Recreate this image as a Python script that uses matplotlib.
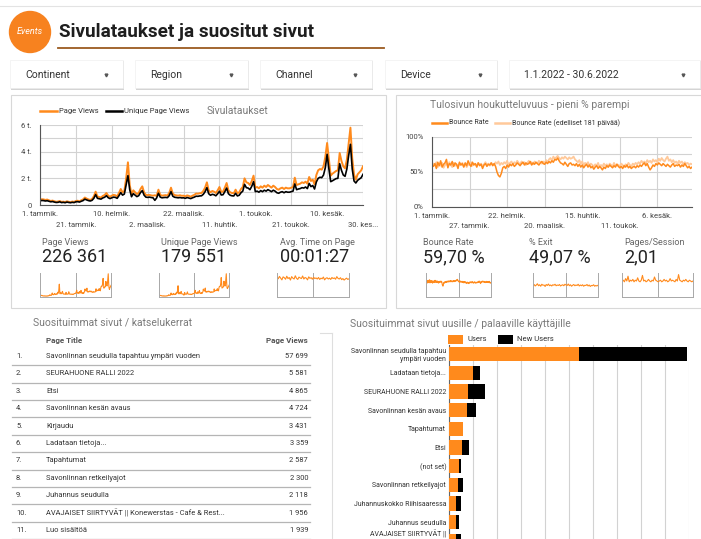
import numpy as np
import matplotlib.pyplot as plt
from matplotlib.patches import Rectangle, Circle

plt.rcParams['font.family'] = ['Roboto', 'DejaVu Sans']

W, H = 701, 539

# ---- data (1.1.2022 - 30.6.2022, daily) ----
page_views = [
    400, 430, 420, 380, 410, 350, 300, 330, 280, 240,
    260, 300, 230, 250, 220, 280, 240, 210, 260, 230,
    300, 320, 280, 350, 420, 560, 480, 420, 380, 450,
    650, 1000, 640, 600, 560, 680, 750, 900, 700, 620,
    700, 760, 730, 650, 900, 1200, 950, 1050, 2000, 3200,
    1500, 800, 1100, 950, 820, 900, 1200, 1400, 950, 760,
    740, 760, 720, 700, 730, 680, 1150, 760, 700, 720,
    740, 710, 900, 1300, 850, 750, 720, 700, 730, 690,
    700, 650, 720, 680, 620, 700, 760, 860, 850, 880,
    900, 1050, 1300, 1700, 1100, 950, 1050, 1000, 900, 1100,
    1350, 980, 1000, 1300, 1650, 1100, 950, 900, 880, 1150,
    880, 950, 1200, 1350, 2000, 1700, 1650, 1500, 1800, 2200,
    1300, 1350, 1250, 1400, 1300, 1450, 1350, 1500, 1400, 1300,
    1450, 1350, 1200, 1150, 1250, 1300, 1200, 1300, 1250, 1250,
    1300, 1350, 2050, 1500, 1550, 1600, 1700, 1650, 1750, 1600,
    2100, 1800, 1900, 1550, 2250, 2600, 2700, 2650, 2900, 3600,
    4650, 3400, 2200, 2350, 2450, 2550, 2600, 3900, 3300, 2900,
    2750, 3400, 4600, 5800, 3500, 2300, 1900, 2300, 2450, 2600,
    2900]
unique_views = [
    310, 340, 330, 300, 320, 280, 240, 260, 220, 190,
    200, 240, 180, 200, 170, 220, 190, 170, 200, 180,
    240, 250, 220, 280, 330, 440, 380, 330, 300, 350,
    500, 780, 500, 470, 440, 530, 580, 700, 550, 480,
    540, 590, 570, 500, 700, 930, 740, 820, 1500, 2200,
    1150, 620, 850, 740, 630, 700, 930, 1080, 740, 590,
    570, 590, 560, 540, 350, 530, 880, 590, 540, 560,
    570, 550, 700, 1000, 660, 580, 560, 540, 560, 530,
    540, 500, 560, 520, 480, 540, 590, 660, 650, 680,
    690, 800, 1000, 1300, 850, 730, 800, 770, 690, 840,
    1030, 750, 770, 1000, 1270, 850, 730, 690, 680, 880,
    680, 730, 920, 1040, 1550, 1300, 1270, 1150, 1400, 1750,
    1000, 1040, 960, 1080, 1000, 1110, 1040, 1150, 1080, 1000,
    1110, 1040, 920, 880, 960, 1000, 920, 1000, 960, 960,
    1000, 1040, 1580, 1150, 1200, 1230, 1300, 1270, 1350, 1230,
    1620, 1380, 1460, 1200, 1730, 2000, 2080, 2050, 2250, 2800,
    3800, 2700, 1750, 1820, 1900, 1980, 2000, 3100, 2600, 2250,
    2150, 2700, 3700, 4550, 2700, 1800, 1650, 1850, 1950, 2050,
    2300]
bounce_rate = [
    60, 58, 62, 55, 64, 59, 66, 57, 61, 63,
    68, 56, 62, 60, 65, 58, 63, 61, 55, 64,
    60, 62, 57, 63, 59, 66, 61, 58, 64, 60,
    62, 57, 63, 59, 61, 55, 60, 62, 58, 61,
    60, 63, 59, 62, 58, 50, 45, 43, 48, 56,
    58, 55, 60, 57, 61, 59, 62, 58, 60, 63,
    61, 59, 62, 64, 60, 63, 61, 62, 65, 60,
    63, 61, 64, 62, 60, 63, 65, 62, 61, 64,
    62, 65, 63, 66, 64, 68, 67, 70, 66, 63,
    62, 60, 64, 61, 58, 62, 63, 60, 61, 59,
    62, 58, 61, 57, 60, 56, 59, 61, 57, 60,
    56, 58, 54, 57, 59, 55, 58, 56, 53, 57,
    55, 59, 57, 60, 58, 56, 59, 57, 61, 58,
    56, 58, 55, 59, 57, 60, 56, 58, 55, 57,
    58, 56, 59, 57, 60, 58, 61, 63, 59, 62,
    57, 53, 56, 60, 58, 62, 60, 63, 61, 59,
    62, 60, 58, 61, 59, 57, 60, 62, 58, 60,
    59, 61, 57, 60, 58, 62, 59, 56, 58, 55,
    57]
bounce_prev = [
    58, 62, 60, 64, 57, 61, 59, 63, 56, 60,
    62, 58, 64, 60, 57, 63, 59, 61, 58, 62,
    60, 63, 58, 62, 57, 61, 60, 64, 59, 62,
    61, 59, 63, 60, 62, 58, 61, 64, 60, 62,
    59, 63, 61, 60, 64, 62, 65, 60, 63, 61,
    64, 62, 66, 60, 63, 65, 61, 64, 62, 66,
    63, 61, 65, 62, 64, 60, 63, 66, 62, 64,
    61, 65, 63, 62, 66, 64, 62, 65, 63, 67,
    64, 68, 70, 66, 72, 69, 71, 73, 70, 68,
    71, 69, 72, 70, 68, 71, 69, 70, 72, 68,
    66, 64, 67, 62, 65, 60, 63, 61, 64, 59,
    62, 60, 58, 61, 59, 63, 57, 60, 58, 62,
    59, 61, 57, 62, 60, 58, 63, 59, 61, 60,
    58, 62, 60, 57, 61, 59, 63, 60, 58, 62,
    60, 63, 61, 64, 62, 66, 63, 65, 62, 67,
    64, 66, 63, 68, 65, 67, 64, 69, 66, 70,
    67, 65, 69, 72, 66, 68, 64, 67, 63, 65,
    62, 66, 63, 65, 61, 64, 62, 63, 60, 62,
    61]
# sparkline series (every 3rd day)
avg_time = [92, 85, 96, 88, 80, 94, 90, 83, 97, 86, 91, 79, 95, 88, 84, 99, 87, 82, 93, 89,
            86, 98, 84, 91, 88, 80, 94, 87, 90, 83, 92, 86, 89, 84, 91, 82, 88, 85, 93, 80,
            87, 90, 84, 88, 82, 91, 86, 89, 83, 95, 87, 84, 90, 81, 86, 79, 84, 88, 82, 85]
exit_rate = [48, 52, 46, 50, 55, 47, 51, 45, 53, 49, 50, 44, 52, 48, 54, 47, 50, 46, 51, 49,
             53, 47, 50, 48, 52, 46, 49, 51, 47, 53, 50, 48, 54, 47, 51, 45, 49, 52, 47, 50,
             48, 53, 46, 50, 47, 51, 45, 49, 48, 52, 46, 50, 44, 48, 47, 51, 45, 48, 46, 49]
pages_session = [2.0, 2.1, 1.9, 2.3, 2.0, 2.6, 1.9, 2.1, 2.0, 2.2, 1.9, 2.1, 2.0, 2.4, 2.0,
                 1.9, 2.1, 2.7, 2.0, 2.1, 1.9, 2.0, 2.2, 2.0, 1.9, 2.1, 2.0, 2.5, 2.1, 2.0,
                 1.9, 2.0, 2.1, 1.9, 2.0, 2.2, 2.0, 2.1, 1.9, 2.0, 2.3, 2.0, 2.1, 2.0, 1.9,
                 2.2, 2.0, 2.8, 2.1, 2.0, 1.9, 2.1, 2.0, 2.2, 2.0, 1.9, 2.1, 2.0, 1.9, 2.0]

main_tick_days = [0, 20, 40, 60, 80, 100, 120, 140, 160, 180]
main_tick_labels = ['1. tammik.', '21. tammik.', '10. helmik.', '2. maalisk.', '22. maalisk.',
                    '11. huhtik.', '1. toukok.', '21. toukok.', '10. kesäk.', '30. kes...']
bounce_tick_days = [0, 26, 52, 78, 104, 130, 156]
bounce_tick_labels = ['1. tammik.', '27. tammik.', '22. helmik.', '20. maalisk.',
                      '15. huhtik.', '11. toukok.', '6. kesäk.']

filters = ['Continent', 'Region', 'Channel', 'Device', '1.1.2022 - 30.6.2022']

score_left = [('Page Views', '226 361'), ('Unique Page Views', '179 551'),
              ('Avg. Time on Page', '00:01:27')]
score_right = [('Bounce Rate', '59,70 %'), ('% Exit', '49,07 %'), ('Pages/Session', '2,01')]

table_titles = ['Savonlinnan seudulla tapahtuu ympäri vuoden', 'SEURAHUONE RALLI 2022', 'Etsi',
                'Savonlinnan kesän avaus', 'Kirjaudu', 'Ladataan tietoja...', 'Tapahtumat',
                'Savonlinnan retkeilyajot', 'Juhannus seudulla',
                'AVAJAISET SIIRTYVÄT || Konewerstas - Cafe & Rest...', 'Luo sisältöä']
table_views = [57699, 5581, 4865, 4724, 3431, 3359, 2587, 2300, 2118, 1956, 1939]

bar_labels = ['Savonlinnan seudulla tapahtuu\nympäri vuoden', 'Ladataan tietoja...',
              'SEURAHUONE RALLI 2022', 'Savonlinnan kesän avaus', 'Tapahtumat', 'Etsi',
              '(not set)', 'Savonlinnan retkeilyajot', 'Juhannuskokko Riihisaaressa',
              'Juhannus seudulla', 'AVAJAISET SIIRTYVÄT ||\nKonewerstas - Cafe &\nRestaurant']
bar_users = [27150, 5100, 4050, 3700, 3000, 2800, 2100, 1950, 1450, 1400, 1450]
bar_new_users = [22350, 1400, 3350, 1950, 0, 1450, 500, 1050, 1000, 750, 1000]

ORANGE = '#ff8a1c'
LIGHT = '#ffc99a'
GRID = '#d2d2d2'
GRAY_TITLE = '#7a7a7a'

fig = plt.figure(figsize=(W / 100, H / 100), dpi=100)
bg = fig.add_axes([0, 0, 1, 1])
bg.set_xlim(0, W)
bg.set_ylim(H, 0)
bg.axis('off')


def rect(x0, y0, x1, y1):
    return [x0 / W, 1 - y1 / H, (x1 - x0) / W, (y1 - y0) / H]


# header
bg.plot([0, W], [6, 6], color='#e3e3e3', lw=0.8)
bg.add_patch(Circle((30, 32), 20.5, color='#f7821f'))
bg.text(30, 31, 'Events', color='white', fontsize=6.5, style='italic', ha='center', va='center')
bg.text(59, 32, 'Sivulataukset ja suositut sivut', fontsize=13.6, fontweight='bold',
        color='#1e1e1e', va='center')
bg.plot([58, 384], [48.3, 48.3], color='#9b5a20', lw=1.3)

# filter boxes
boxes = [(10, 123), (135, 248), (260, 372), (385, 497), (509, 700)]
for (x0, x1), name in zip(boxes, filters):
    bg.add_patch(Rectangle((x0 + 0.5, 61), x1 - x0, 28.5, fc='#d4d4d4', ec='none'))
    bg.add_patch(Rectangle((x0, 60), x1 - x0, 28, fc='white', ec='#ececec', lw=0.4))
    bg.text(x0 + 15, 74.5, name, fontsize=7.5, color='#333333', va='center')
    bg.plot(x1 - 17, 75, marker='v', ms=2.0, color='#555555')

# panels
bg.add_patch(Rectangle((10.5, 95), 375, 213, fc='white', ec='#d8d8d8', lw=0.8))
bg.add_patch(Rectangle((395.5, 95), 310, 213, fc='white', ec='#d8d8d8', lw=0.8))
bg.plot([331.5, 331.5], [333, H], color='#dedede', lw=0.8)
bg.plot([320, 331.5], [333, 333], color='#dedede', lw=0.8)

# ---- main time series ----
days = np.arange(len(page_views))
bg.plot([40, 57], [111, 111], color=ORANGE, lw=1.8)
bg.text(59, 111, 'Page Views', fontsize=5.5, color='#333', va='center')
bg.plot([106, 122], [111, 111], color='black', lw=1.8)
bg.text(124, 111, 'Unique Page Views', fontsize=5.5, color='#333', va='center')
bg.text(207, 111, 'Sivulataukset', fontsize=7.5, color=GRAY_TITLE, va='center')

ax = fig.add_axes(rect(40, 125, 363, 205))
ax.set_facecolor('none')
ax.plot(days, page_views, color=ORANGE, lw=1.4)
ax.plot(days, unique_views, color='black', lw=1.2)
ax.set_xlim(0, 180)
ax.set_ylim(0, 6000)
ax.set_xticks(main_tick_days)
ax.set_xticklabels([])
ax.set_yticks([0, 2000, 4000, 6000])
ax.set_yticklabels(['0', '2 t.', '4 t.', '6 t.'], fontsize=5.5, color='#444')
ax.set_yticks([1000, 3000, 5000], minor=True)
ax.tick_params(which='both', length=0, pad=6)
ax.grid(True, which='both', color=GRID, lw=0.8)
for s in ['top', 'right']:
    ax.spines[s].set_visible(False)
for s in ['left', 'bottom']:
    ax.spines[s].set_color('#555')
    ax.spines[s].set_linewidth(0.8)
for i, (d, lbl) in enumerate(zip(main_tick_days, main_tick_labels)):
    ax.text(d, -0.11 if i % 2 == 0 else -0.245, lbl, transform=ax.get_xaxis_transform(),
            fontsize=5.5, color='#444', ha='center', va='center')

# ---- bounce rate chart ----
bg.text(430, 105, 'Tulosivun houkutteluvuus - pieni % parempi', fontsize=7.5,
        color=GRAY_TITLE, va='center')
bg.plot([432, 447], [123, 123], color=ORANGE, lw=1.8)
bg.text(449, 123, 'Bounce Rate', fontsize=5, color='#333', va='center')
bg.plot([495, 510], [123, 123], color=LIGHT, lw=1.8)
bg.text(512, 123, 'Bounce Rate (edelliset 181 päivää)', fontsize=5, color='#333', va='center')

bx = fig.add_axes(rect(432, 137, 692, 207))
bx.set_facecolor('none')
bx.plot(np.arange(len(bounce_prev)), bounce_prev, color=LIGHT, lw=1.3)
bx.plot(np.arange(len(bounce_rate)), bounce_rate, color=ORANGE, lw=1.1)
bx.set_xlim(0, 180)
bx.set_ylim(0, 100)
bx.set_xticks(bounce_tick_days)
bx.set_xticklabels([])
bx.set_yticks([0, 50, 100])
bx.set_yticklabels(['0%', '50%', '100%'], fontsize=5.5, color='#444')
bx.set_yticks([25, 75], minor=True)
bx.tick_params(which='both', length=0, pad=6)
bx.grid(True, which='both', color=GRID, lw=0.8)
for s in ['top', 'right']:
    bx.spines[s].set_visible(False)
for s in ['left', 'bottom']:
    bx.spines[s].set_color('#555')
    bx.spines[s].set_linewidth(0.8)
for i, (d, lbl) in enumerate(zip(bounce_tick_days, bounce_tick_labels)):
    bx.text(d, -0.13 if i % 2 == 0 else -0.27, lbl, transform=bx.get_xaxis_transform(),
            fontsize=5.5, color='#444', ha='center', va='center')


# ---- scorecards with sparklines ----
def spark(x0, x1, values, top):
    sa = fig.add_axes(rect(x0, 273, x1, 297))
    sa.set_facecolor('none')
    sa.plot(np.arange(len(values)), values, color=ORANGE, lw=0.8)
    sa.set_xlim(0, len(values) - 1)
    sa.set_ylim(0, top)
    sa.set_xticks([(len(values) - 1) / 2])
    sa.set_yticks([])
    sa.tick_params(length=0, labelbottom=False)
    sa.grid(True, axis='x', color='#a8a8a8', lw=0.7)
    sa.spines['top'].set_visible(False)
    for s in ['left', 'right', 'bottom']:
        sa.spines[s].set_color('#a8a8a8')
        sa.spines[s].set_linewidth(0.7)


for x, (lbl, val) in zip([42, 161, 280], score_left):
    bg.text(x, 242.5, lbl, fontsize=6.5, color='#666', va='center')
    bg.text(x, 257, val, fontsize=13, color='#222', va='center')
for x, (lbl, val) in zip([423, 529, 624], score_right):
    bg.text(x, 242.5, lbl, fontsize=6.5, color='#666', va='center')
    bg.text(x, 257, val, fontsize=13, color='#222', va='center')

spark(40, 111, page_views, 6000)
spark(159, 229, unique_views, 4700)
spark(277, 349, avg_time, 112)
spark(426, 491, bounce_rate, 95)
spark(533, 598, exit_rate, 100)
spark(622, 693, pages_session, 3.0)

# ---- table ----
bg.text(33, 322.5, 'Suosituimmat sivut / katselukerrat', fontsize=7.5, color=GRAY_TITLE,
        va='center')
bg.text(46, 340.5, 'Page Title', fontsize=5.8, fontweight='bold', color='#555', va='center')
bg.text(308, 340.5, 'Page Views', fontsize=5.8, fontweight='bold', color='#555', va='center',
        ha='right')
for i, (t, v) in enumerate(zip(table_titles, table_views)):
    y = 356.5 + 17.4 * i
    bg.text(16, y, f'{i + 1}.', fontsize=5.4, color='#333', va='center')
    bg.text(46, y, t, fontsize=5.4, color='#333', va='center')
    bg.text(308, y, f'{v:,}'.replace(',', ' '), fontsize=5.4, color='#333', va='center',
            ha='right')
    bg.plot([12, 310], [y + 8.7, y + 8.7], color='#b5b5b5', lw=0.9)

# ---- stacked bar chart ----
bg.text(350, 324, 'Suosituimmat sivut uusille / palaaville käyttäjille', fontsize=7.5,
        color=GRAY_TITLE, va='center')
bg.add_patch(Rectangle((448, 335), 15, 8.5, fc=ORANGE, ec='none'))
bg.text(467, 339.3, 'Users', fontsize=5.5, color='#333', va='center')
bg.add_patch(Rectangle((498, 335), 15, 8.5, fc='black', ec='none'))
bg.text(517, 339.3, 'New Users', fontsize=5.5, color='#333', va='center')

n = len(bar_labels)
cx = fig.add_axes(rect(449, 344.65, 689, 344.65 + 18.7 * n))
cx.set_facecolor('none')
ypos = np.arange(n)
cx.barh(ypos, bar_users, height=0.76, color=ORANGE, zorder=3)
cx.barh(ypos, bar_new_users, left=bar_users, height=0.76, color='black', zorder=3)
cx.set_ylim(n - 0.5, -0.5)
cx.set_xlim(0, 50000)
cx.set_xticks(np.arange(0, 50001, 5000))
cx.set_xticklabels([])
cx.set_yticks(ypos)
cx.set_yticklabels(bar_labels, fontsize=5, color='#333', linespacing=1.15)
cx.tick_params(length=0, pad=2)
cx.grid(True, axis='x', color=GRID, lw=0.8, zorder=0)
for s in ['top', 'right', 'bottom']:
    cx.spines[s].set_visible(False)
cx.spines['left'].set_color('#666')
cx.spines['left'].set_linewidth(0.8)

fig.savefig('out.png', dpi=100)
